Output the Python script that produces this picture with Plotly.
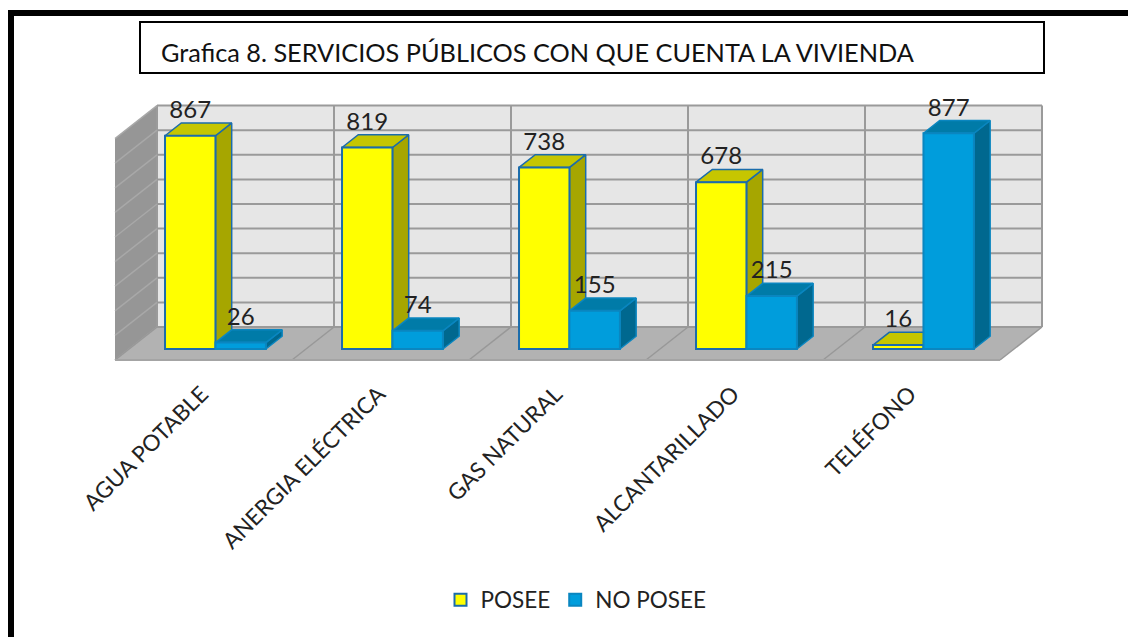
import plotly.graph_objects as go

categories = ["AGUA POTABLE", "ANERGIA ELÉCTRICA", "GAS NATURAL", "ALCANTARILLADO", "TELÉFONO"]
posee = [867, 819, 738, 678, 16]
no_posee = [26, 74, 155, 215, 877]
grid_values = [0, 100, 200, 300, 400, 500, 600, 700, 800, 900]

W, H = 1128, 637
X0_PX, Y0_PX = 115, 360        # front-left floor corner
PX_PER_CAT = 177
PX_PER_UNIT = 0.246
DX = 42 / PX_PER_CAT           # full wall depth, in category units
DY = 33 / PX_PER_UNIT          # full wall depth, in value units
D0, D1 = 1 / 3, 0.72           # bar depth span
BAR_LEFT = 0.2035
BAR_W = 0.285
FONT = "Lato"
TXT = "#222222"
GRID = "#9a9a9a"


def proj(x, v, d):
    return x + d * DX, v + d * DY


def poly(points):
    xs, ys = zip(*points)
    return list(xs) + [xs[0]], list(ys) + [ys[0]]


def shape_trace(polys, fill, line=None, lw=0, z=0):
    xs, ys = [], []
    for p in polys:
        a, b = poly(p)
        xs += a + [None]
        ys += b + [None]
    return go.Scatter(x=xs, y=ys, mode="lines", fill="toself", fillcolor=fill,
                      line=dict(color=line or fill, width=lw), hoverinfo="skip",
                      showlegend=False, zorder=z)


def line_trace(segs, color=GRID, lw=2, z=0):
    xs, ys = [], []
    for a, b in segs:
        xs += [a[0], b[0], None]
        ys += [a[1], b[1], None]
    return go.Scatter(x=xs, y=ys, mode="lines", line=dict(color=color, width=lw),
                      hoverinfo="skip", showlegend=False, zorder=z)


n = len(categories)
top = grid_values[-1]
fig = go.Figure()

# walls and floor
fig.add_trace(shape_trace([[proj(0, 0, 1), proj(n, 0, 1), proj(n, top, 1), proj(0, top, 1)]], "#e6e6e6"))
fig.add_trace(shape_trace([[proj(0, 0, 0), proj(0, 0, 1), proj(0, top, 1), proj(0, top, 0)]], "#969696"))
fig.add_trace(shape_trace([[proj(0, 0, 0), proj(n, 0, 0), proj(n, 0, 1), proj(0, 0, 1)]], "#b2b2b2"))

# wall grid
fig.add_trace(line_trace([(proj(0, g, 1), proj(n, g, 1)) for g in grid_values]))
fig.add_trace(line_trace([(proj(i, 0, 1), proj(i, top, 1)) for i in range(n + 1)]))
fig.add_trace(line_trace([(proj(0, g, 0), proj(0, g, 1)) for g in grid_values], color="#a8a8a8", lw=1.5))
fig.add_trace(line_trace([(proj(i, 0, 0), proj(i, 0, 1)) for i in range(n + 1)], color="#989898", lw=1.5))
fig.add_trace(line_trace([(proj(0, 0, 0), proj(n, 0, 0))], color="#a4a4a4", lw=2))

series = [
    ("POSEE", posee, 0, "#ffff00", "#c6c600", "#a6a600", "#1b6cab", 1),
    ("NO POSEE", no_posee, 1, "#009ddc", "#007ba8", "#00688f", "#0a86c0", 3),
]
for name, vals, k, front, topc, side, edge, z in series:
    sides, tops = [], []
    for i, v in enumerate(vals):
        xl = i + BAR_LEFT + k * BAR_W
        xr = xl + BAR_W
        sides.append([proj(xr, 0, D0), proj(xr, v, D0), proj(xr, v, D1), proj(xr, 0, D1)])
        tops.append([proj(xl, v, D0), proj(xr, v, D0), proj(xr, v, D1), proj(xl, v, D1)])
    fig.add_trace(shape_trace(sides, side, edge, 1.5, z))
    fig.add_trace(shape_trace(tops, topc, edge, 1.5, z))
    fig.add_trace(go.Bar(
        name=name, x=[i + BAR_LEFT + k * BAR_W + D0 * DX for i in range(n)], y=vals,
        base=D0 * DY, width=BAR_W, offset=0,
        marker=dict(color=front, line=dict(color=edge, width=2)),
        zorder=z + 1, hovertemplate=name + ": %{y}<extra></extra>",
    ))

# data labels
lab_x, lab_y, lab_t = [], [], []
for k, vals in enumerate([posee, no_posee]):
    for i, v in enumerate(vals):
        lab_x.append(i + BAR_LEFT + k * BAR_W + BAR_W / 2 + D0 * DX)
        lab_y.append(v + D1 * DY + 11 / PX_PER_UNIT)
        lab_t.append(str(v))
fig.add_trace(go.Scatter(x=lab_x, y=lab_y, text=lab_t, mode="text", textposition="middle center",
                         textfont=dict(family=FONT, size=24, color=TXT), hoverinfo="skip",
                         showlegend=False, zorder=9))


def fx(px):
    return px / W


def fy(py):
    return 1 - py / H


shapes = [
    dict(type="line", xref="paper", yref="paper", x0=fx(11), x1=fx(11), y0=fy(10), y1=fy(H), line=dict(color="black", width=6)),
    dict(type="line", xref="paper", yref="paper", x0=fx(8), x1=fx(W), y0=fy(13), y1=fy(13), line=dict(color="black", width=6)),
    dict(type="rect", xref="paper", yref="paper", x0=fx(140), x1=fx(1044), y0=fy(73), y1=fy(22),
         line=dict(color="black", width=2), fillcolor="white", layer="below"),
]

fig.update_layout(
    width=W, height=H, autosize=False,
    margin=dict(l=0, r=0, t=0, b=0),
    paper_bgcolor="white", plot_bgcolor="rgba(0,0,0,0)",
    barmode="overlay",
    font=dict(family=FONT, color=TXT),
    title=dict(text="Grafica 8. SERVICIOS PÚBLICOS CON QUE CUENTA LA VIVIENDA",
               x=fx(161), xref="paper", xanchor="left", y=fy(53), yref="paper", yanchor="middle",
               font=dict(family=FONT, size=25.3, color="#111111")),
    shapes=shapes,
    showlegend=True,
    legend=dict(orientation="h", x=fx(576), xanchor="center", y=fy(600), yanchor="middle",
                font=dict(family=FONT, size=22.5, color=TXT), bgcolor="rgba(0,0,0,0)",
                traceorder="normal"),
    xaxis=dict(range=[-X0_PX / PX_PER_CAT, (W - X0_PX) / PX_PER_CAT], domain=[0, 1],
               anchor="free", position=fy(Y0_PX), showgrid=False, zeroline=False, showline=False,
               tickmode="array", tickvals=[i + 0.49 for i in range(n)], ticktext=categories,
               tickangle=-45, ticks="outside", ticklen=11, tickcolor="rgba(0,0,0,0)",
               tickfont=dict(family=FONT, size=22.5, color=TXT), automargin=False),
    yaxis=dict(range=[-(H - Y0_PX) / PX_PER_UNIT, Y0_PX / PX_PER_UNIT], domain=[0, 1],
               visible=False, automargin=False),
)

fig.write_html("out.html", config={"displayModeBar": False},
               post_script="document.body.style.margin='0';document.body.style.overflow='hidden';")
